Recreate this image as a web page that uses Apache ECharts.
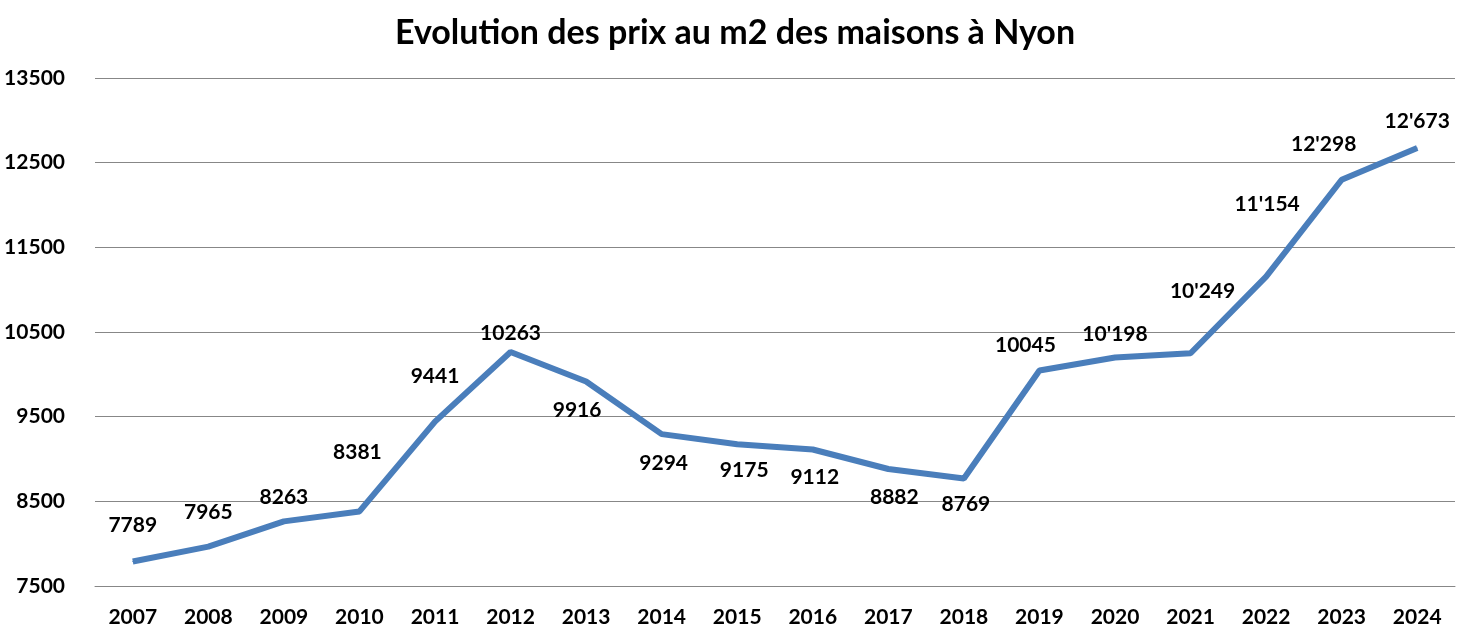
<!DOCTYPE html>
<html>
<head>
<meta charset="utf-8">
<script src="https://cdn.jsdelivr.net/npm/echarts@6/dist/echarts.min.js"></script>
<style>html,body{margin:0;padding:0;background:#fff}#c{width:1470px;height:640px}</style>
</head>
<body>
<div id="c"></div>
<script>
const years = ['2007','2008','2009','2010','2011','2012','2013','2014','2015','2016','2017','2018','2019','2020','2021','2022','2023','2024'];
const prices = [7789,7965,8263,8381,9441,10263,9916,9294,9175,9112,8882,8769,10045,10198,10249,11154,12298,12673];
const priceLabels = ['7789','7965','8263','8381','9441','10263','9916','9294','9175','9112','8882','8769','10045',"10'198","10'249","11'154","12'298","12'673"];
const yTicks = [7500,8500,9500,10500,11500,12500,13500];

// label placement (style only)
const labelOffsets = [[0,-36],[0,-34],[0,-24],[-2,-59],[0,-45],[0,-19],[-9,29],[2,29],[7,26],[2,28],[6,28],[2,26],[-14,-25],[0,-23],[12,-62],[1,-72],[-18,-36],[0,-27]];

const FONT = 'Lato, "Open Sans", "DejaVu Sans", sans-serif';
const chart = echarts.init(document.getElementById('c'));
chart.setOption({
  animation: false,
  title: {
    text: 'Evolution des prix au m2 des maisons à Nyon',
    left: 'center', top: 11,
    textStyle: {fontFamily: FONT, fontWeight: 'bold', fontSize: 34, color: '#000'}
  },
  grid: {left: 95, right: 15, top: 78, bottom: 54},
  xAxis: {
    type: 'category', data: years, boundaryGap: true,
    axisLine: {show: true, lineStyle: {color: '#878787', width: 1}},
    axisTick: {show: false},
    axisLabel: {margin: 21, fontFamily: FONT, fontWeight: 'bold', fontSize: 21, color: '#000'}
  },
  yAxis: {
    type: 'value', min: yTicks[0], max: yTicks[yTicks.length-1], interval: 1000,
    axisLine: {show: false}, axisTick: {show: false},
    splitLine: {lineStyle: {color: '#878787', width: 1}},
    axisLabel: {margin: 30, fontFamily: FONT, fontWeight: 'bold', fontSize: 21, color: '#000',
      formatter: v => String(v)}
  },
  series: [{
    type: 'line',
    data: prices.map((v, i) => ({
      value: v,
      label: {offset: labelOffsets[i]}
    })),
    symbol: 'circle', symbolSize: 1,
    itemStyle: {color: '#4a7ebb'},
    lineStyle: {color: '#4a7ebb', width: 6},
    label: {
      show: true, position: 'inside',
      formatter: p => priceLabels[p.dataIndex],
      fontFamily: FONT, fontWeight: 'bold', fontSize: 21, color: '#000'
    }
  }]
});
</script>
</body>
</html>
